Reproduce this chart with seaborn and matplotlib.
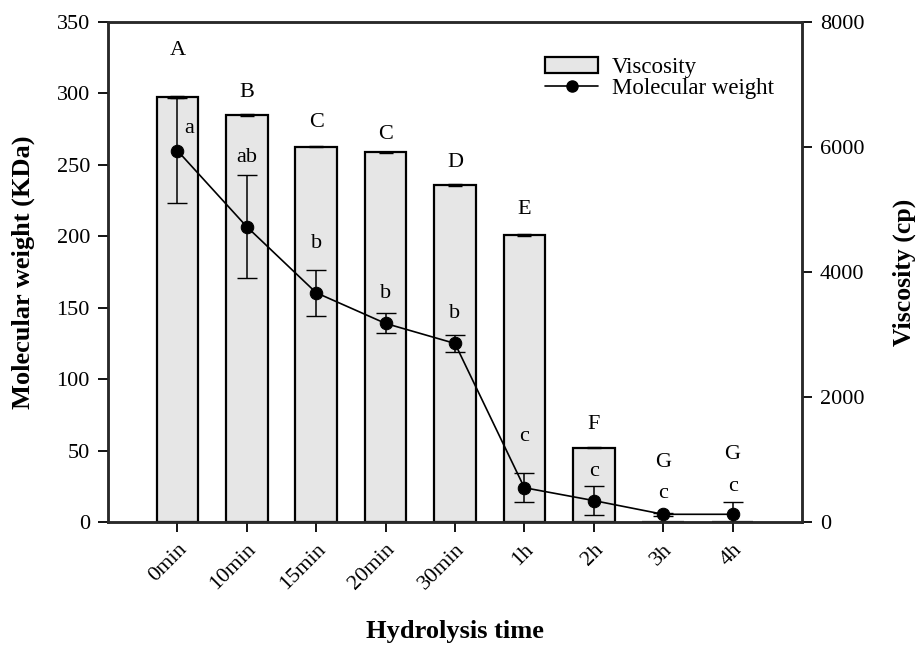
import numpy as np
import matplotlib
matplotlib.use('Agg')
import matplotlib.pyplot as plt
import seaborn as sns
from matplotlib.patches import Patch
from matplotlib.lines import Line2D

# Data
times = ['0min', '10min', '15min', '20min', '30min', '1h', '2h', '3h', '4h']
viscosity = [6795, 6512, 6005, 5915, 5392, 4592, 1189, 0, 0]
viscosity_err = [15, 15, 5, 10, 15, 10, 10, 0, 0]
mol_weight = [260, 206.7, 160.5, 139, 125, 24, 15, 5.4, 5.4]
mol_weight_err = [36.5, 36, 16, 7, 6, 10, 10, 1, 8.5]

visc_letters = ['A', 'B', 'C', 'C', 'D', 'E', 'F', 'G', 'G']
visc_letter_y = [330, 300.5, 279.5, 271, 252, 219, 68.6, 41.8, 47.6]
mw_letters = ['a', 'ab', 'b', 'b', 'b', 'c', 'c', 'c', 'c']
mw_letter_y = [275.6, 255.3, 195, 160, 146, 59.7, 35.7, 20, 24.7]
mw_letter_dx = [0.17, 0, 0, 0, 0, 0, 0, 0, 0]

sns.set_style('ticks')
plt.rcParams['font.family'] = ['Liberation Serif', 'DejaVu Serif']
plt.rcParams['font.size'] = 16
plt.rcParams['text.color'] = 'black'
plt.rcParams['axes.labelcolor'] = 'black'
plt.rcParams['xtick.color'] = 'black'
plt.rcParams['ytick.color'] = 'black'

fig = plt.figure(figsize=(9.18, 6.53), dpi=100)
ax = fig.add_axes([0.1176, 0.2006, 0.756, 0.7657])
ax2 = ax.twinx()

pos = np.arange(len(times))

# Viscosity bars on the right axis
sns.barplot(x=times, y=viscosity, ax=ax2, color='#e6e6e6', edgecolor='black',
            linewidth=1.6, width=0.6, saturation=1)
ax2.errorbar(pos, viscosity, yerr=viscosity_err, fmt='none', ecolor='black',
             elinewidth=1, capsize=5)

# Molecular weight line on the left axis, drawn above the bars
ax.set_zorder(ax2.get_zorder() + 1)
ax.patch.set_visible(False)
sns.lineplot(x=pos, y=mol_weight, ax=ax, color='black', marker='o',
             markersize=9, markeredgecolor='black', linewidth=1.2)
ax.errorbar(pos, mol_weight, yerr=mol_weight_err, fmt='none', ecolor='black',
            elinewidth=1.1, capsize=7.5)

for i in range(len(times)):
    ax.text(pos[i], visc_letter_y[i], visc_letters[i], ha='center', va='center', fontsize=16)
    ax.text(pos[i] + mw_letter_dx[i], mw_letter_y[i], mw_letters[i], ha='center',
            va='center', fontsize=16)

ax.set_xlim(-1, len(times))
ax.set_ylim(0, 350)
ax.set_yticks(range(0, 351, 50))
ax2.set_ylim(0, 8000)
ax2.set_yticks(range(0, 8001, 2000))
ax.set_xticks(pos)
ax.set_xticklabels(times, rotation=45, ha='right', va='top', rotation_mode='anchor')

ax.set_ylabel('Molecular weight (KDa)', fontsize=19, fontweight='bold',
              rotation=90, ha='center', va='center')
ax.yaxis.set_label_coords(-0.122, 0.5)
ax2.set_ylabel('Viscosity (cp)', fontsize=18.5, fontweight='bold',
               rotation=90, ha='center', va='center')
ax2.yaxis.set_label_coords(1.147, 0.5)
ax.set_xlabel('Hydrolysis time', fontsize=19, fontweight='bold', labelpad=19)

for a in (ax, ax2):
    for s in a.spines.values():
        s.set_linewidth(1.8)
        s.set_color('#2a2a2a')
    a.tick_params(direction='out', length=7, width=1.3, labelsize=16, pad=6)
ax2.set_xlabel('')

handles = [Patch(facecolor='#e6e6e6', edgecolor='black', linewidth=1.6),
           Line2D([0], [0], color='black', marker='o', markersize=8, linewidth=1.2)]
ax.legend(handles, ['Viscosity', 'Molecular weight'], loc='upper left',
          bbox_to_anchor=(0.63, 0.93), frameon=False, fontsize=16.5,
          handlelength=2.3, handletextpad=0.6, labelspacing=0.0,
          borderpad=0, borderaxespad=0)

plt.savefig('out.png', dpi=100)
